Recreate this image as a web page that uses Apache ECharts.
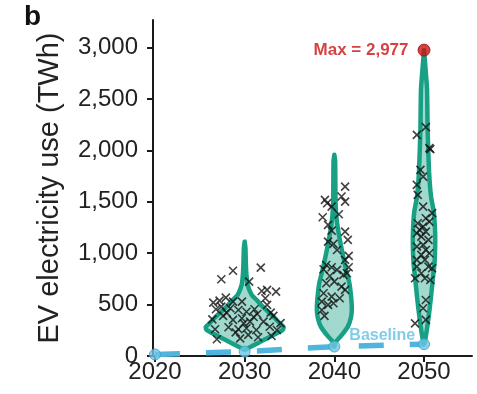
<!DOCTYPE html>
<html><head><meta charset="utf-8">
<script src="https://cdn.jsdelivr.net/npm/echarts@6/dist/echarts.min.js"></script>
<style>html,body{margin:0;padding:0;background:#fff}#c{width:477px;height:394px}</style>
</head><body><div id="c"></div>
<script>
// ---------- data ----------
const years = [2020, 2030, 2040, 2050];
const yTicks = [0, 500, 1000, 1500, 2000, 2500, 3000];
const baselineValues = [15, 43, 92, 115];
const maxPoint = [2050, 2977];

// scenario results: [jittered year, TWh]
const scen2030 = [[2028.7,830],[2031.8,860],[2027.4,747],[2030.5,724],[2031.9,633],[2032.5,643],[2033.5,626],[2032.3,562],[2026.5,519],[2027.2,539],[2027.9,568],[2026.8,455],[2028.4,465],[2029.7,529],[2029.3,448],[2030.2,431],[2031.1,455],[2031.4,409],[2032.9,422],[2033.2,390],[2026.4,357],[2027.6,390],[2028.7,351],[2029.7,367],[2030.6,334],[2032.1,334],[2026.7,260],[2028.2,280],[2029.3,260],[2030.2,270],[2031.3,253],[2032.8,285],[2026.9,163],[2029.5,172],[2030.4,205],[2031.5,182],[2033,195],[2029.9,318],[2028.7,529],[2027.4,480],[2032.5,497],[2033.6,253],[2029,230],[2028,420],[2031,380],[2034,320]];
const scen2040 = [[2041.2,1649],[2038.95,1519],[2040.8,1552],[2041.2,1503],[2039.7,1454],[2039.2,1487],[2039.3,1276],[2039.7,1220],[2041.2,1211],[2041.5,1130],[2039.3,1113],[2039.9,1091],[2040.3,1032],[2041.6,974],[2041.2,935],[2039.1,886],[2039.7,864],[2041.6,864],[2038.8,844],[2040.3,838],[2039.5,779],[2041,789],[2041.4,805],[2040,724],[2039.1,708],[2040.8,675],[2041.2,643],[2038.8,611],[2039.7,578],[2040.6,562],[2038.6,529],[2039.3,497],[2038.6,448],[2038.9,390],[2039.9,513],[2040.5,1380],[2038.7,1350]];
const scen2050 = [[2050.2,2227],[2049.2,2152],[2050.6,2023],[2050.7,2013],[2049.6,1812],[2049.9,1746],[2049.2,1666],[2049.3,1568],[2049.9,1454],[2050.9,1390],[2050.2,1341],[2049.3,1292],[2049.9,1259],[2050.6,1308],[2049.2,1195],[2049.7,1162],[2050.5,1130],[2049.9,1081],[2049.2,1065],[2050.2,1032],[2050.6,1000],[2049.7,984],[2049.2,935],[2050.1,935],[2050.5,870],[2050.9,854],[2049.2,870],[2049.7,805],[2050.1,757],[2049,757],[2050.7,740],[2050.2,545],[2049.9,465],[2050.2,351],[2049,318],[2049.5,1227],[2050.2,1211]];

// violin density profiles: [TWh, relative density]
const violinYears = [2030, 2040, 2050];
const violin2030 = [[58,0],[100,0.8],[150,1.8],[200,2.8],[253,3.8],[280,3.9],[320,3.5],[400,2.7],[480,1.8],[545,1.2],[594,0.7],[692,0.3],[789,0.18],[900,0.12],[1050,0.08],[1113,0]];
const violin2040 = [[92,0],[140,0.15],[205,0.75],[286,1.35],[370,1.65],[450,1.75],[550,1.7],[711,1.5],[870,1.1],[1032,0.75],[1200,0.42],[1357,0.2],[1500,0.12],[1700,0.1],[1900,0.08],[1958,0]];
const violin2050 = [[115,0],[156,0.12],[321,0.38],[450,0.55],[578,0.7],[750,0.88],[905,1.05],[1100,1.12],[1227,1.1],[1400,0.98],[1552,0.7],[1800,0.5],[2200,0.36],[2600,0.3],[2977,0]];
const violins = [violin2030, violin2040, violin2050];

// ---------- chart ----------
const FONT = 'Liberation Sans, Arial, sans-serif';
const TEAL = '#17a084';
const DENS_SCALE = 1.115; // years per density unit
const chart = echarts.init(document.getElementById('c'), null, {renderer: 'canvas'});

const scatterStyle = {
  type: 'scatter', z: 3,
  symbol: 'path://M0,0L10,10M10,0L0,10',
  symbolSize: 8,
  itemStyle: {color: 'transparent', borderColor: '#111', borderWidth: 1.6},
  silent: true
};

chart.setOption({
  animation: false,
  textStyle: {fontFamily: FONT},
  grid: {left: 153, right: 5, top: 20, bottom: 38, containLabel: false},
  graphic: [{type: 'text', left: 24, top: 3, style: {text: 'b', font: 'bold 28px ' + FONT, fill: '#111'}}],
  xAxis: {
    type: 'value', min: 2019.78, max: 2055.35,
    splitLine: {show: false},
    axisLine: {show: true, onZero: false, lineStyle: {color: '#1a1a1a', width: 2}},
    axisTick: {show: true, length: 6, lineStyle: {color: '#1a1a1a', width: 2}, customValues: years},
    axisLabel: {customValues: years, formatter: v => String(v), fontSize: 24, color: '#222', margin: 4, fontFamily: FONT}
  },
  yAxis: {
    type: 'value', min: 0, max: 3270,
    name: 'EV electricity use (TWh)', nameLocation: 'middle', nameGap: 89,
    nameTextStyle: {fontSize: 29, color: '#222', fontFamily: FONT},
    splitLine: {show: false},
    axisLine: {show: true, lineStyle: {color: '#1a1a1a', width: 2}},
    axisTick: {show: true, length: 6, lineStyle: {color: '#1a1a1a', width: 2}, customValues: yTicks},
    axisLabel: {customValues: yTicks, formatter: v => v.toLocaleString('en-US'), fontSize: 24, color: '#222', margin: 15, fontFamily: FONT}
  },
  series: [
    {
      type: 'line', z: 1, silent: true,
      data: years.map((y, i) => [y, baselineValues[i]]),
      symbol: 'none',
      lineStyle: {color: '#4fb5dc', width: 5.5, type: [25, 26], cap: 'butt'}
    },
    {
      type: 'custom', z: 2, silent: true,
      data: violinYears.map(y => [y, 0]),
      renderItem(params, api) {
        const yr = api.value(0);
        const prof = violins[params.dataIndex];
        const right = prof.map(([v, d]) => api.coord([yr + d * DENS_SCALE, v]));
        const left = prof.slice().reverse().map(([v, d]) => api.coord([yr - d * DENS_SCALE, v]));
        return {
          type: 'polygon',
          shape: {points: right.concat(left), smooth: 0.15},
          style: {fill: 'rgba(23,160,132,0.40)', stroke: TEAL, lineWidth: 4.5, lineJoin: 'round'}
        };
      }
    },
    Object.assign({data: scen2030}, scatterStyle),
    Object.assign({data: scen2040}, scatterStyle),
    Object.assign({data: scen2050}, scatterStyle),
    {
      type: 'scatter', z: 4, silent: true,
      data: years.map((y, i) => ({
        value: [y, baselineValues[i]],
        label: i === 2 ? {show: true, formatter: 'Baseline', position: 'right', distance: 9, offset: [0, -11],
          color: '#5fc0e2', fontWeight: 'bold', fontSize: 16, fontFamily: FONT} : {show: false}
      })),
      symbolSize: 11,
      itemStyle: {color: '#6ec6e6', borderColor: '#3a9fc8', borderWidth: 1}
    },
    {
      type: 'scatter', z: 5, silent: true,
      data: [maxPoint],
      symbolSize: 12,
      itemStyle: {color: '#cc1111', borderColor: '#990a0a', borderWidth: 1},
      label: {show: true, position: 'left', distance: 9,
        formatter: p => 'Max = ' + p.value[1].toLocaleString('en-US'),
        color: '#cc1111', fontWeight: 'bold', fontSize: 17, fontFamily: FONT}
    }
  ]
});
</script>
</body></html>
